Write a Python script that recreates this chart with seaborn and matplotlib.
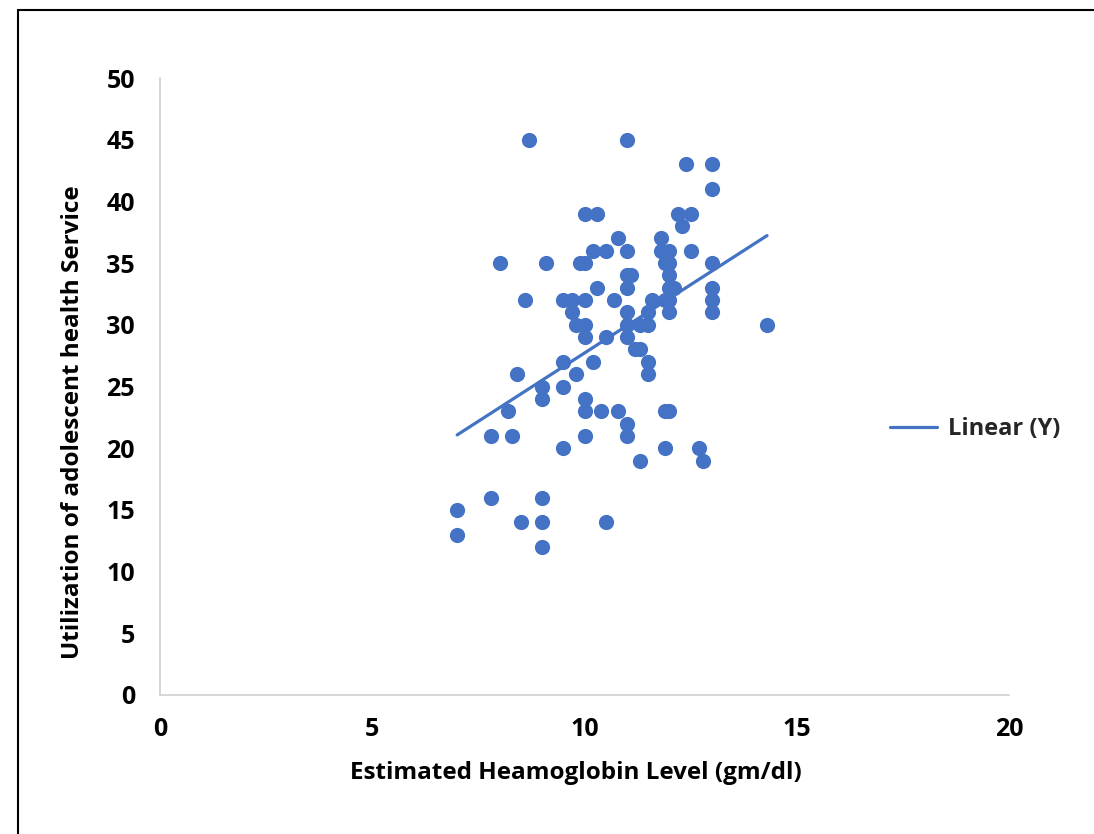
import numpy as np
import pandas as pd
import matplotlib
matplotlib.use("Agg")
import matplotlib.pyplot as plt
import matplotlib.patches as mpatches
import seaborn as sns

# Data (x: haemoglobin gm/dl, y: utilization score)
hb = [8.7, 11.0,
      12.4, 13.0,
      13.0,
      10.0, 10.3, 12.2, 12.5,
      12.3,
      10.8, 11.8,
      10.2, 10.5, 11.0, 11.8, 12.0, 12.5,
      8.0, 9.1, 9.9, 10.0, 11.9, 12.0, 13.0,
      11.0, 11.1, 12.0,
      10.3, 11.0, 12.0, 12.1, 13.0,
      8.6, 9.5, 9.7, 10.0, 10.7, 11.6, 11.9, 12.0, 13.0,
      9.7, 11.0, 11.5, 12.0, 13.0,
      9.8, 10.0, 11.0, 11.3, 11.5, 14.3,
      10.0, 10.5, 11.0,
      11.2, 11.3,
      9.5, 10.2, 11.5,
      8.4, 9.8, 11.5,
      9.0, 9.5,
      9.0, 10.0,
      8.2, 10.0, 10.4, 10.8, 11.9, 12.0,
      11.0,
      7.8, 8.3, 10.0, 11.0,
      9.5, 11.9, 12.7,
      11.3, 12.8,
      7.8, 9.0,
      7.0,
      8.5, 9.0, 10.5,
      7.0,
      9.0]
util = [45, 45,
        43, 43,
        41,
        39, 39, 39, 39,
        38,
        37, 37,
        36, 36, 36, 36, 36, 36,
        35, 35, 35, 35, 35, 35, 35,
        34, 34, 34,
        33, 33, 33, 33, 33,
        32, 32, 32, 32, 32, 32, 32, 32, 32,
        31, 31, 31, 31, 31,
        30, 30, 30, 30, 30, 30,
        29, 29, 29,
        28, 28,
        27, 27, 27,
        26, 26, 26,
        25, 25,
        24, 24,
        23, 23, 23, 23, 23, 23,
        22,
        21, 21, 21, 21,
        20, 20, 20,
        19, 19,
        16, 16,
        15,
        14, 14, 14,
        13,
        12]

x_ticks = [0, 5, 10, 15, 20]
y_ticks = [0, 5, 10, 15, 20, 25, 30, 35, 40, 45, 50]
x_label = "Estimated Heamoglobin Level (gm/dl)"
y_label = "Utilization of adolescent health Service"
legend_label = "Linear (Y)"

sns.set_theme(style="white")
plt.rcParams['font.family'] = ['Open Sans', 'DejaVu Sans']

BLUE = "#4472C4"
W, H = 1094, 834
fig = plt.figure(figsize=(W / 100, H / 100), dpi=100)
fig.patch.set_facecolor("white")
ax = fig.add_axes([160 / W, 1 - 695 / H, 849 / W, 617 / H])

df = pd.DataFrame({"hb": hb, "util": util})
sns.regplot(data=df, x="hb", y="util", ci=None, ax=ax,
            scatter_kws=dict(s=120, color=BLUE, linewidths=0, alpha=1),
            line_kws=dict(color=BLUE, lw=2.3, label=legend_label))

ax.set_xlim(0, 20)
ax.set_ylim(0, 50)
ax.set_xticks(x_ticks)
ax.set_yticks(y_ticks)
ax.set_xticklabels([str(t) for t in x_ticks], fontsize=18, fontweight="bold")
ax.set_yticklabels([str(t) for t in y_ticks], fontsize=18, fontweight="bold")
ax.tick_params(axis="both", length=0, colors="black")
ax.tick_params(axis="y", pad=18)
ax.tick_params(axis="x", pad=16)

for s in ["top", "right"]:
    ax.spines[s].set_visible(False)
for s in ["left", "bottom"]:
    ax.spines[s].set_color("#d0d0d0")
    ax.spines[s].set_linewidth(1.2)

ax.set_xlabel(x_label, fontsize=17.5, fontweight="bold", color="black")
ax.set_ylabel(y_label, fontsize=17.5, fontweight="bold", color="black")
ax.xaxis.label.set_va("center")
ax.yaxis.label.set_va("center")
ax.xaxis.set_label_coords((576 - 160) / 849, (695 - 773) / 617)
ax.yaxis.set_label_coords((73 - 160) / 849, (695 - 422) / 617)

handles = [l for l in ax.get_lines() if l.get_label() == legend_label]
ax.legend(handles=handles, loc="center left",
          bbox_to_anchor=(890 / W, 1 - 429 / H), bbox_transform=fig.transFigure,
          frameon=False, borderpad=0, borderaxespad=0, handlelength=2.0,
          handletextpad=0.45, prop=dict(size=17, weight="bold"))

border = mpatches.Rectangle((18 / W, -0.02), 1.1, 1 - 10 / H + 0.02,
                            transform=fig.transFigure, fill=False,
                            edgecolor="black", linewidth=1.5)
fig.patches.append(border)

fig.savefig("out.png", dpi=100)
